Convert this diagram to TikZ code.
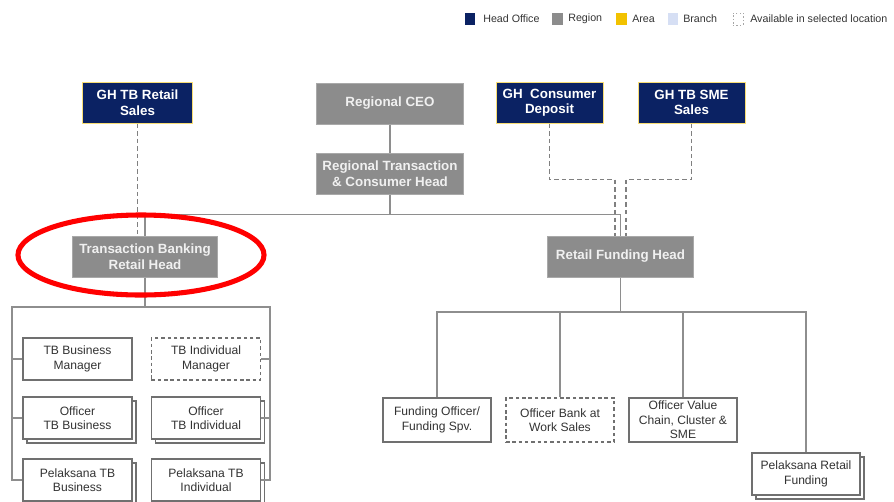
\documentclass[tikz,border=0pt]{standalone}
\usepackage{fontspec}
\setmainfont{Liberation Sans}
\usetikzlibrary{shadows}
\definecolor{hoblue}{HTML}{0B2263}
\definecolor{rggray}{HTML}{8C8C8C}
\definecolor{linegray}{HTML}{8E8E8E}
\definecolor{boxgray}{HTML}{707070}
\definecolor{areayellow}{HTML}{F2C200}
\definecolor{branchblue}{HTML}{D6DFF4}
\definecolor{textgray}{HTML}{333333}
\tikzset{hobox/.style={shape=rectangle, fill=hoblue, draw=areayellow!55, line width=0.7pt, text=white, font=\bfseries\fontsize{9.5}{11}\selectfont, align=center, minimum height=1.025cm, inner sep=0pt}}
\tikzset{rgbox/.style={shape=rectangle, fill=rggray, draw=rggray!75, line width=0.7pt, text=white!94!black, font=\bfseries\fontsize{9.5}{11}\selectfont, align=center, minimum height=1.025cm, inner sep=0pt}}
\tikzset{staffbox/.style={shape=rectangle, fill=white, draw=boxgray, line width=0.9pt, text=textgray, font=\fontsize{8.6}{10.4}\selectfont, align=center, minimum width=2.725cm, minimum height=1.05cm, inner sep=0pt}}
\tikzset{optbox/.style={staffbox, dash pattern=on 2.5pt off 2pt}}
\tikzset{stackbox/.style={staffbox, copy shadow={shadow xshift=0.1cm, shadow yshift=-0.1cm, fill=white, draw=boxgray, line width=0.9pt}}}
\tikzset{link/.style={draw=linegray, line width=1.1pt}}
\tikzset{dotlink/.style={draw=linegray!90!black, line width=1.2pt, dash pattern=on 3.2pt off 2.2pt}}
\tikzset{keybox/.style={shape=rectangle, minimum width=0.26cm, minimum height=0.3cm, inner sep=0pt}}
\tikzset{keytext/.style={anchor=west, inner sep=0pt, text=textgray, font=\fontsize{7.6}{9}\selectfont}}

\begin{document}
\begin{tikzpicture}[x=0.025cm, y=-0.025cm]
\useasboundingbox (0,0) rectangle (894,501);

\node[style=keybox, fill=hoblue] (kho) at (470,19) {};
\node[style=keytext] (tho) at (483,19) {Head Office};
\node[style=keybox, fill=rggray] (krg) at (557.5,19) {};
\node[style=keytext] (trg) at (568,19) {Region};
\node[style=keybox, fill=areayellow] (kar) at (621.5,19) {};
\node[style=keytext] (tar) at (632,19) {Area};
\node[style=keybox, fill=branchblue] (kbr) at (673,19) {};
\node[style=keytext] (tbr) at (683,19) {Branch};
\node[style=keybox, draw=gray!70, dash pattern=on 1pt off 1.5pt] (kav) at (738,19) {};
\node[style=keytext] (tav) at (750,19) {Available in selected location};

\node[style=hobox, minimum width=2.725cm] (ghretail) at (137.5,102.5) {GH TB Retail\\Sales};
\node[style=rgbox, minimum width=3.65cm] (ceo) at (390,103.5) {Regional CEO};
\node[style=rgbox, minimum width=3.65cm] (rtch) at (390,173.5) {Regional Transaction\\\& Consumer Head};
\node[style=hobox, minimum width=2.675cm] (ghdeposit) at (549.5,102.5) {GH\ \ Consumer\\Deposit};
\node[style=hobox, minimum width=2.675cm] (ghsme) at (691.5,102.5) {GH TB SME\\Sales};
\node[style=rgbox, minimum width=3.6cm] (tbrh) at (145,256.5) {Transaction Banking\\Retail Head};
\node[style=rgbox, minimum width=3.625cm] (rfh) at (620.5,256.5) {Retail Funding Head};

\node[style=staffbox] (tbbm) at (77.5,359) {TB Business\\Manager};
\node[style=optbox] (tbim) at (206,359) {TB Individual\\Manager};
\node[style=stackbox] (otbb) at (77.5,418) {Officer\\TB Business};
\node[style=stackbox] (otbi) at (206,418) {Officer\\TB Individual};
\node[style=stackbox] (ptbb) at (77.5,480) {Pelaksana TB\\Business};
\node[style=stackbox] (ptbi) at (206,480) {Pelaksana TB\\Individual};

\node[style=staffbox, minimum width=2.7cm, minimum height=1.1cm] (fofs) at (437,420) {Funding Officer/\\Funding Spv.};
\node[style=optbox, minimum width=2.7cm, minimum height=1.1cm] (obws) at (560,420) {Officer Bank at\\Work Sales};
\node[style=staffbox, minimum width=2.7cm, minimum height=1.1cm, font=\fontsize{8.6}{10.3}\selectfont] (ovcs) at (683,420) {Officer Value\\Chain, Cluster \&\\SME};
\node[style=stackbox, minimum width=2.7cm] (prf) at (806,474) {Pelaksana Retail\\Funding};

\coordinate (lbusL) at (12,307);
\coordinate (lbusR) at (270,307);
\coordinate (rbusL) at (437,312);

\draw[style=link] (ceo) -- (rtch);
\draw[style=link] (tbrh.north) -- ++(0,-21) coordinate (tbus) -| (rfh.north);
\draw[style=link] (rtch.south) -- (rtch.south |- tbus);
\draw[style=dotlink] (ghretail.south) -- (ghretail.south |- tbrh.north);
\draw[style=dotlink] (ghdeposit.south) -- ++(0,56) -| ([xshift=-0.14cm]rfh.north);
\draw[style=dotlink] (ghsme.south) -- ++(0,56) -| ([xshift=0.14cm]rfh.north);

\draw[style=link] (tbrh.south) -- (tbrh.south |- lbusL);
\draw[style=link] (ptbb.west) -| (lbusL) -- (lbusR) |- (ptbi.east);
\draw[style=link] (tbbm.west) -- (tbbm.west -| lbusL);
\draw[style=link] (otbb.west) -- (otbb.west -| lbusL);
\draw[style=link] (tbim.east) -- (tbim.east -| lbusR);
\draw[style=link] (otbi.east) -- (otbi.east -| lbusR);

\draw[style=link] (rfh.south) -- (rfh.south |- rbusL);
\draw[style=link] (fofs.north) |- (prf.north |- rbusL) -- (prf.north);
\draw[style=link] (obws.north) -- (obws.north |- rbusL);
\draw[style=link] (ovcs.north) -- (ovcs.north |- rbusL);

\draw[red, line width=3.6pt] (141,255) ellipse [x radius=3.075cm, y radius=1.0cm];
\end{tikzpicture}
\end{document}
